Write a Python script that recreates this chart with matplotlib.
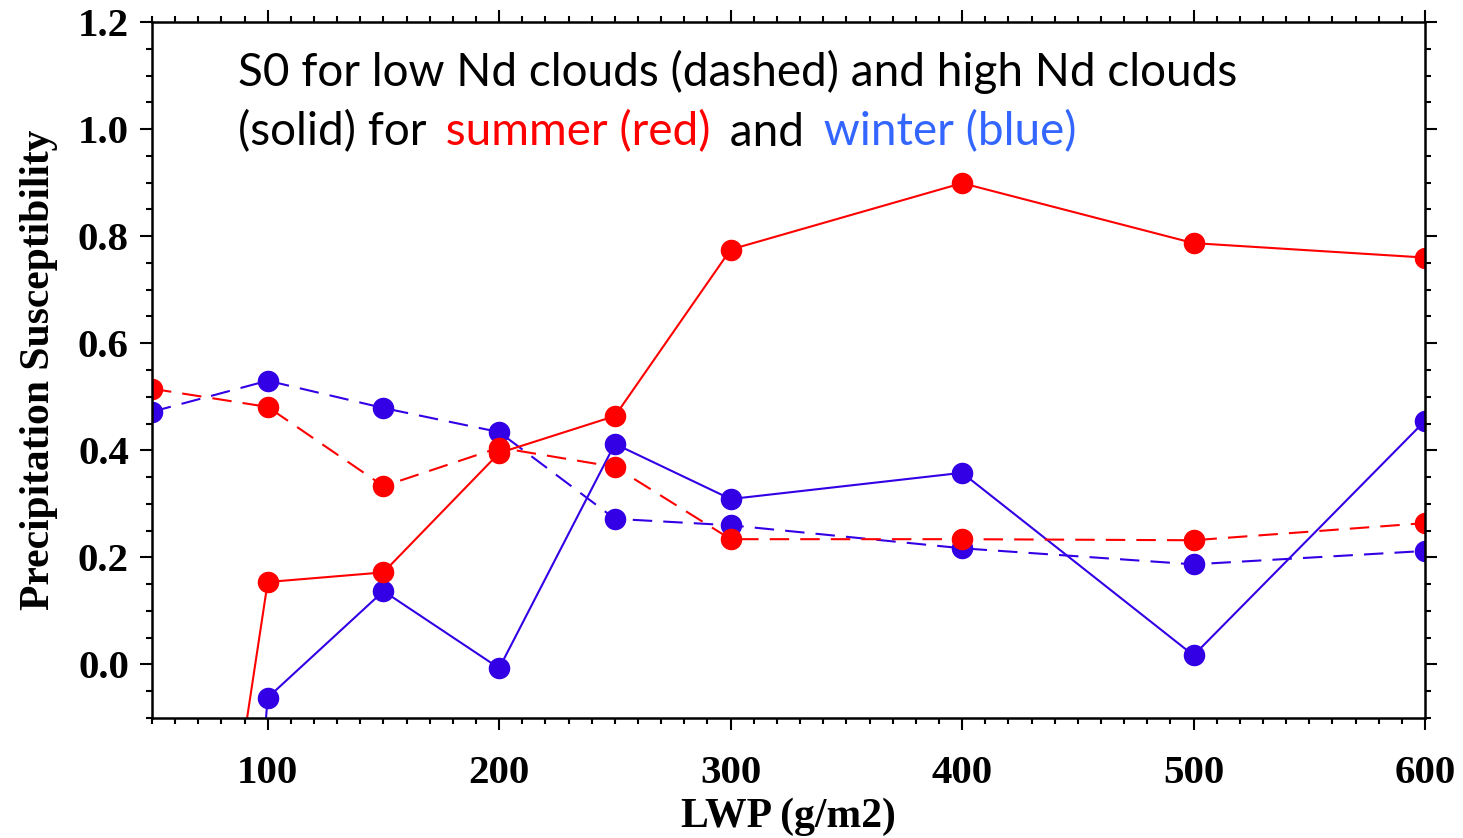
import matplotlib
matplotlib.use('Agg')
import matplotlib.pyplot as plt
from matplotlib.ticker import MultipleLocator, FixedLocator

plt.rcParams['lines.scale_dashes'] = False

lwp = [50, 100, 150, 200, 250, 300, 400, 500, 600]
# high Nd clouds (solid)
summer_high = [-1.27, 0.154, 0.172, 0.395, 0.464, 0.775, 0.899, 0.787, 0.760]
winter_high = [-2.6, -0.062, 0.137, -0.007, 0.412, 0.309, 0.358, 0.017, 0.455]
# low Nd clouds (dashed)
summer_low = [0.515, 0.481, 0.333, 0.405, 0.369, 0.234, 0.234, 0.232, 0.264]
winter_low = [0.472, 0.530, 0.479, 0.434, 0.272, 0.260, 0.217, 0.187, 0.212]

xticks = [100, 200, 300, 400, 500, 600]
yticks = [0.0, 0.2, 0.4, 0.6, 0.8, 1.0, 1.2]

red = '#FF0000'
blue = '#3300E6'
txt_blue = '#3366FF'

fig = plt.figure(figsize=(14.63, 8.38), dpi=100)
ax = fig.add_axes([152/1463, 1-718/838, (1425-152)/1463, (718-22)/838])

dash = (14, 8)
ax.plot(lwp, winter_low, '--', color=blue, lw=1.5, dashes=dash,
        marker='o', ms=14.5)
ax.plot(lwp, winter_high, '-', color=blue, lw=1.5, marker='o', ms=14.5)
ax.plot(lwp, summer_low, '--', color=red, lw=1.5, dashes=dash,
        marker='o', ms=14.5)
ax.plot(lwp, summer_high, '-', color=red, lw=1.5, marker='o', ms=14.5)

ax.set_xlim(50, 600)
ax.set_ylim(-0.1, 1.2)
ax.xaxis.set_major_locator(FixedLocator(xticks))
ax.xaxis.set_minor_locator(MultipleLocator(10))
ax.yaxis.set_major_locator(FixedLocator(yticks))
ax.yaxis.set_minor_locator(MultipleLocator(0.05))
ax.set_yticklabels(['%.1f' % v for v in yticks])

for s in ax.spines.values():
    s.set_linewidth(1.8)
ax.tick_params(which='both', direction='out', top=True, right=True, width=1.5)
ax.tick_params(which='major', length=8.6)
ax.tick_params(which='minor', length=4.3)
ax.tick_params(axis='x', pad=18)
ax.tick_params(axis='y', pad=8)
for lab in ax.get_xticklabels() + ax.get_yticklabels():
    lab.set_fontfamily('Liberation Serif')
    lab.set_fontweight('bold')
    lab.set_fontsize(29.5)

ax.set_xlabel('LWP (g/m2)', fontfamily='Liberation Serif', fontweight='bold',
              fontsize=30, labelpad=4)
ax.set_ylabel('Precipitation Susceptibility', fontfamily='Liberation Serif',
              fontweight='bold', fontsize=30, labelpad=14)

# note inside the plot, second line in several colours
fs = 33
fam = 'Lato'
fig.text(238/1463, 1-72/838, 'S0 for low Nd clouds (dashed) and high Nd clouds',
         fontsize=fs, fontfamily=fam, va='center', ha='left')
t = fig.text(238/1463, 1-132/838, '(solid) for', fontsize=fs, fontfamily=fam,
             va='center', ha='left')
for piece, col in [(' summer (red)', red), (' and', 'black'),
                   (' winter (blue)', txt_blue)]:
    t = ax.annotate(piece, xy=(1, 0), xycoords=t, xytext=(5.5, 0),
                    textcoords='offset points', va='bottom', ha='left',
                    fontsize=fs, fontfamily=fam, color=col)

fig.savefig('out.png', dpi=100)
